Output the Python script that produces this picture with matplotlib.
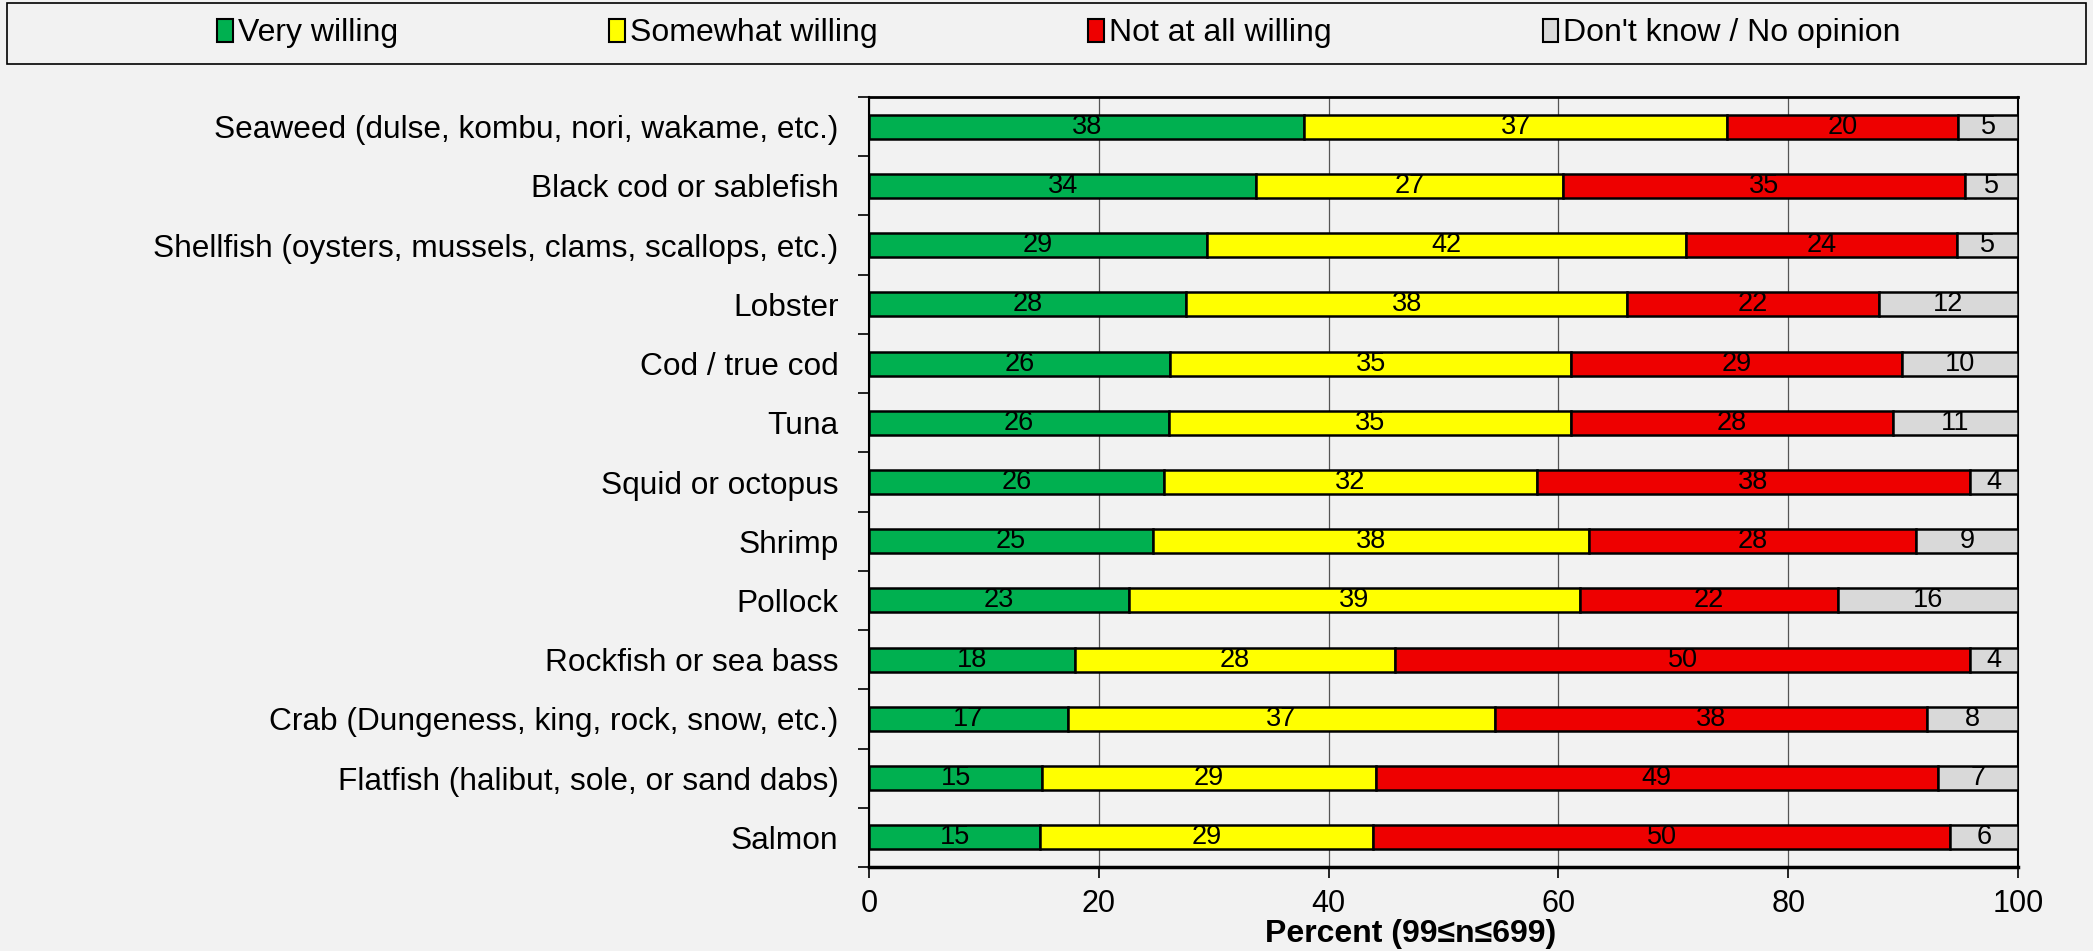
import matplotlib
matplotlib.use("Agg")
import matplotlib.pyplot as plt
from matplotlib.patches import Rectangle, Patch
import numpy as np

plt.rcParams['font.family'] = ['Liberation Sans', 'DejaVu Sans']

categories = [
    "Seaweed (dulse, kombu, nori, wakame, etc.)",
    "Black cod or sablefish",
    "Shellfish (oysters, mussels, clams, scallops, etc.)",
    "Lobster",
    "Cod / true cod",
    "Tuna",
    "Squid or octopus",
    "Shrimp",
    "Pollock",
    "Rockfish or sea bass",
    "Crab (Dungeness, king, rock, snow, etc.)",
    "Flatfish (halibut, sole, or sand dabs)",
    "Salmon",
]
very_willing = [37.9, 33.7, 29.4, 27.6, 26.2, 26.1, 25.7, 24.7, 22.6, 17.9, 17.3, 15.1, 14.9]
somewhat_willing = [36.8, 26.7, 41.7, 38.4, 34.9, 35.0, 32.4, 38.0, 39.3, 27.9, 37.2, 29.0, 29.0]
not_willing = [20.1, 35.0, 23.6, 21.9, 28.8, 28.0, 37.7, 28.4, 22.4, 50.0, 37.6, 48.9, 50.2]
dont_know = [5.2, 4.6, 5.3, 12.1, 10.1, 10.9, 4.2, 8.9, 15.7, 4.2, 7.9, 7.0, 5.9]

series_names = ["Very willing", "Somewhat willing", "Not at all willing", "Don't know / No opinion"]
colors = ["#00B050", "#FFFF00", "#EE0000", "#D9D9D9"]
series = [very_willing, somewhat_willing, not_willing, dont_know]

bg = "#F2F2F2"
fig = plt.figure(figsize=(20.93, 9.51), dpi=100, facecolor=bg)
ax = fig.add_axes([869/2093, 1-867/951, (2018-869)/2093, (867-97)/951])
ax.set_facecolor(bg)

n = len(categories)
y = np.arange(n)
left = np.zeros(n)
for vals, col in zip(series, colors):
    vals = np.array(vals)
    ax.barh(y, vals, left=left, height=0.405, color=col, edgecolor="black",
            linewidth=1.8, zorder=3)
    for yi, l, v in zip(y, left, vals):
        ax.text(l + v/2, yi, f"{v:.0f}", ha="center", va="center", fontsize=19.5,
                color="black", zorder=4)
    left += vals

ax.set_xlim(0, 100)
ax.set_ylim(n - 0.5, -0.5)
ax.set_xticks([0, 20, 40, 60, 80, 100])
ax.set_xticklabels(["0", "20", "40", "60", "80", "100"], fontsize=22)
ax.set_yticks(y)
ax.set_yticklabels(categories, fontsize=22.8)
ax.tick_params(axis="y", length=0, pad=22)
ax.set_yticks(np.arange(-0.5, n, 1.0), minor=True)
ax.tick_params(axis="y", which="minor", length=8, width=1.2, direction="out")
ax.tick_params(axis="x", length=8, width=1.2, direction="out", pad=8)
ax.grid(axis="x", color="#555555", linewidth=0.9, zorder=0)
for s in ax.spines.values():
    s.set_color("black")
    s.set_linewidth(1.5)
ax.spines["bottom"].set_linewidth(2.5)
ax.spines["top"].set_linewidth(2.0)
ax.set_xlabel("Percent (99≤n≤699)", fontsize=23, fontweight="bold", labelpad=0)
ax.xaxis.set_label_coords(0.471, -0.068)

# legend box
fig.patches.append(Rectangle((7/2093, 1-64/951), (2086-7)/2093, 61/951,
                             transform=fig.transFigure, facecolor="none",
                             edgecolor="black", linewidth=1.2))
handles = [Patch(facecolor=c, edgecolor="black", linewidth=1.5) for c in colors]
fig.legend(handles, series_names, loc="center", bbox_to_anchor=(0.506, 1-33.5/951),
           ncol=4, frameon=False, fontsize=23, handlelength=0.5, handleheight=0.7,
           handletextpad=0.15, columnspacing=6.6)

fig.savefig("out.png", dpi=100, facecolor=bg)
